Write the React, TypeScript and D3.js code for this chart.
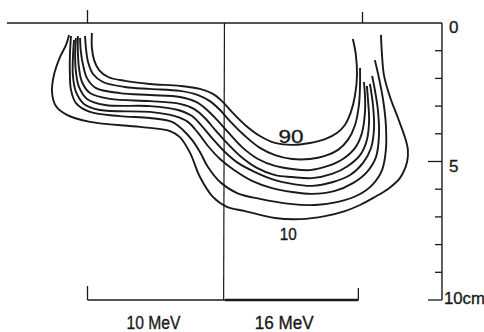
import React from "react";
import * as d3 from "d3";

type Pt = [number, number];

// Isodose levels (percent), innermost to outermost
const isodoseLevels = [90, 80, 70, 60, 50, 40, 20, 10];

// Each curve: [lateral position (cm), depth (cm)]
const curve90: Pt[] = [
  [-4.84, 0.36], [-4.84, 0.9], [-4.76, 1.34], [-4.58, 1.7], [-4.25, 1.95], [-3.64, 2.09],
  [-2.73, 2.2], [-1.64, 2.27], [-0.91, 2.38], [-0.44, 2.56], [-0.11, 2.82], [0.25, 3.21],
  [0.73, 3.68], [1.27, 4.08], [1.82, 4.33], [2.44, 4.4], [3.09, 4.33], [3.64, 4.19],
  [4.07, 3.97], [4.36, 3.68], [4.58, 3.21], [4.73, 2.6], [4.8, 1.88], [4.76, 1.16], [4.65, 0.58],
];
const curve80: Pt[] = [
  [-5.09, 0.47], [-5.05, 0.97], [-4.98, 1.41], [-4.8, 1.84], [-4.44, 2.13], [-3.64, 2.31],
  [-2.73, 2.38], [-1.64, 2.45], [-0.98, 2.6], [-0.55, 2.82], [-0.18, 3.14], [0.18, 3.54],
  [0.73, 4.08], [1.27, 4.51], [1.82, 4.77], [2.44, 4.91], [3.09, 4.91], [3.64, 4.8],
  [4.11, 4.58], [4.47, 4.22], [4.73, 3.68], [4.87, 2.96], [4.91, 2.24], [4.91, 1.62],
];
const curve70: Pt[] = [
  [-5.27, 0.54], [-5.24, 1.05], [-5.16, 1.52], [-5.02, 1.99], [-4.69, 2.35], [-3.82, 2.53],
  [-2.73, 2.6], [-1.64, 2.67], [-1.05, 2.85], [-0.65, 3.14], [-0.29, 3.5], [0.11, 3.94],
  [0.62, 4.48], [1.2, 4.91], [1.82, 5.16], [2.44, 5.27], [3.09, 5.31], [3.75, 5.16],
  [4.29, 4.91], [4.73, 4.51], [4.98, 3.97], [5.09, 3.21], [5.09, 2.6], [5.05, 2.13],
];
const curve60: Pt[] = [
  [-5.35, 0.47], [-5.35, 1.05], [-5.31, 1.62], [-5.2, 2.13], [-4.91, 2.53], [-4.18, 2.74],
  [-2.73, 2.82], [-1.64, 2.92], [-1.13, 3.1], [-0.73, 3.43], [-0.36, 3.86], [0.04, 4.3],
  [0.55, 4.8], [1.16, 5.23], [1.82, 5.49], [2.44, 5.56], [3.16, 5.6], [3.89, 5.45],
  [4.47, 5.16], [4.91, 4.77], [5.16, 4.22], [5.24, 3.5], [5.2, 2.78], [5.16, 2.27],
];
const curve50: Pt[] = [
  [-5.42, 0.54], [-5.45, 1.16], [-5.42, 1.77], [-5.31, 2.31], [-5.02, 2.74], [-4.36, 2.96],
  [-2.73, 3.0], [-1.71, 3.14], [-1.2, 3.36], [-0.84, 3.72], [-0.44, 4.19], [-0.04, 4.62],
  [0.47, 5.05], [1.09, 5.38], [1.82, 5.67], [2.44, 5.81], [3.16, 5.88], [3.93, 5.74],
  [4.55, 5.49], [5.02, 5.05], [5.31, 4.51], [5.42, 3.79], [5.38, 2.96], [5.27, 2.2],
];
const curve40: Pt[] = [
  [-5.49, 0.61], [-5.53, 1.26], [-5.53, 1.91], [-5.42, 2.49], [-5.13, 2.92], [-4.55, 3.14],
  [-2.73, 3.21], [-1.82, 3.36], [-1.35, 3.57], [-0.98, 3.97], [-0.62, 4.44], [-0.18, 4.91],
  [0.33, 5.31], [0.98, 5.7], [1.71, 5.96], [2.44, 6.1], [3.16, 6.17], [4.0, 6.06],
  [4.65, 5.78], [5.16, 5.38], [5.49, 4.84], [5.6, 4.04], [5.56, 3.14], [5.45, 2.42], [5.35, 1.91],
];
const curve20: Pt[] = [
  [-5.6, 0.47], [-5.64, 1.16], [-5.64, 1.88], [-5.6, 2.42], [-5.42, 2.89], [-4.91, 3.21],
  [-3.82, 3.36], [-2.73, 3.43], [-1.93, 3.57], [-1.53, 3.86], [-1.2, 4.22], [-0.91, 4.66],
  [-0.62, 5.2], [-0.18, 5.74], [0.44, 6.14], [1.27, 6.35], [2.36, 6.53], [3.27, 6.57],
  [4.11, 6.46], [4.84, 6.21], [5.35, 5.85], [5.71, 5.31], [5.85, 4.58], [5.85, 3.68],
  [5.75, 2.78], [5.6, 1.99], [5.45, 1.34],
];
const curve10: Pt[] = [
  [-5.67, 0.43], [-5.78, 0.79], [-6.0, 1.23], [-6.22, 1.88], [-6.29, 2.49], [-6.15, 3.0],
  [-5.75, 3.32], [-4.91, 3.57], [-3.09, 3.75], [-2.0, 3.9], [-1.64, 4.12], [-1.27, 4.69],
  [-0.91, 5.56], [-0.44, 6.28], [0.07, 6.64], [0.73, 6.79], [1.82, 7.04], [2.73, 7.08],
  [3.64, 6.97], [4.36, 6.79], [4.91, 6.57], [5.45, 6.28], [5.93, 5.99], [6.36, 5.6],
  [6.62, 5.02], [6.65, 4.58], [6.55, 4.15], [6.29, 3.43], [6.0, 2.67], [5.78, 1.88],
  [5.71, 1.16], [5.67, 0.43],
];
const isodoseCurves = [curve90, curve80, curve70, curve60, curve50, curve40, curve20, curve10];

// Axis / annotation values (cm)
const depthTicks = [0, 1, 2, 3, 4, 5, 6, 7, 8, 9, 10];
const depthMajor = [5, 10];
const depthLabels = ["0", "5", "10cm"];
const depthLabelValues = [0, 5, 10];
const fieldEdges = [-5, 5];
const energyLabels = ["10 MeV", "16 MeV"];
const energyCenters = [-2.6, 2.15];
const labeledLevels = [90, 10];
const labelPositions: Pt[] = [[2.4, 4.33], [2.3, 7.85]];

export default function App() {
  const W = 484;
  const H = 332;
  const x = d3.scaleLinear().domain([-8, 8]).range([5, 445]);
  const y = d3.scaleLinear().domain([0, 10]).range([23, 300]);
  const line = d3
    .line<Pt>()
    .x((d) => x(d[0]))
    .y((d) => y(d[1]))
    .curve(d3.curveCatmullRom.alpha(0.5));

  const ink = "#1a1a1a";
  const font = "'Liberation Sans', Arial, sans-serif";
  const axisX = x(7.89);
  const leftX = x(-7.93);
  const textStroke = { stroke: ink, strokeWidth: 0.35 };

  return (
    <svg
      width={W}
      height={H}
      viewBox={`0 0 ${W} ${H}`}
      style={{ position: "absolute", left: 0, top: 0, background: "#fff" }}
    >
      <rect width={W} height={H} fill="#fff" />
      {/* surface line */}
      <line x1={leftX} y1={y(0)} x2={axisX} y2={y(0)} stroke={ink} strokeWidth={1.4} />
      {/* field-edge ticks above surface */}
      {fieldEdges.map((f, i) => (
        <line key={"fe" + i} x1={x(f)} y1={y(0) - (i === 0 ? 13 : 11)} x2={x(f)} y2={y(0)} stroke={ink} strokeWidth={1.3} />
      ))}
      {/* central divider */}
      <line x1={x(-0.02)} y1={y(0)} x2={x(-0.05)} y2={y(10)} stroke={ink} strokeWidth={1.2} />
      {/* bottom bracket */}
      <line x1={x(fieldEdges[0])} y1={y(10)} x2={x(0)} y2={y(10)} stroke={ink} strokeWidth={1.4} />
      <line x1={x(0)} y1={y(10)} x2={x(4.85)} y2={y(10)} stroke={ink} strokeWidth={2.4} />
      <line x1={x(fieldEdges[0])} y1={y(10)} x2={x(fieldEdges[0])} y2={y(10) - 14} stroke={ink} strokeWidth={1.3} />
      <line x1={x(4.85)} y1={y(10)} x2={x(4.85)} y2={y(10) - 12} stroke={ink} strokeWidth={1.3} />
      {energyLabels.map((t, i) => (
        <text
          key={"en" + i}
          x={x(energyCenters[i])}
          y={329}
          textAnchor="middle"
          fontFamily={font}
          fontSize={19}
          textLength={i === 0 ? 54 : 59}
          lengthAdjust="spacingAndGlyphs"
          fill={ink}
          {...textStroke}
        >
          {t}
        </text>
      ))}
      {/* depth axis */}
      <line x1={axisX} y1={y(0)} x2={axisX} y2={y(10)} stroke={ink} strokeWidth={1.4} />
      {depthTicks
        .filter((d) => d > 0)
        .map((d) => (
          <line
            key={"dt" + d}
            x1={axisX - (depthMajor.includes(d) ? 14 : 7)}
            y1={y(d)}
            x2={axisX}
            y2={y(d)}
            stroke={ink}
            strokeWidth={1.3}
          />
        ))}
      {depthLabels.map((t, i) => (
        <text
          key={"dl" + i}
          x={axisX + (i === 2 ? 2 : 7)}
          y={y(depthLabelValues[i]) + (i === 2 ? 4 : 10) + (i === 0 ? 0 : 0)}
          fontFamily={font}
          fontSize={i === 2 ? 16 : 17}
          textLength={i === 2 ? 41 : undefined}
          lengthAdjust="spacingAndGlyphs"
          fill={ink}
          {...textStroke}
        >
          {t}
        </text>
      ))}
      {/* isodose curves */}
      {isodoseCurves.map((c, i) => (
        <path key={"c" + isodoseLevels[i]} d={line(c) || ""} fill="none" stroke={ink} strokeWidth={1.9} />
      ))}
      {labeledLevels.map((lv, i) => (
        <text
          key={"lv" + lv}
          x={x(labelPositions[i][0])}
          y={y(labelPositions[i][1])}
          textAnchor="middle"
          fontFamily={font}
          fontSize={i === 0 ? 19 : 16}
          textLength={i === 0 ? 25 : 17}
          lengthAdjust="spacingAndGlyphs"
          fill={ink}
          {...textStroke}
        >
          {String(lv)}
        </text>
      ))}
    </svg>
  );
}
